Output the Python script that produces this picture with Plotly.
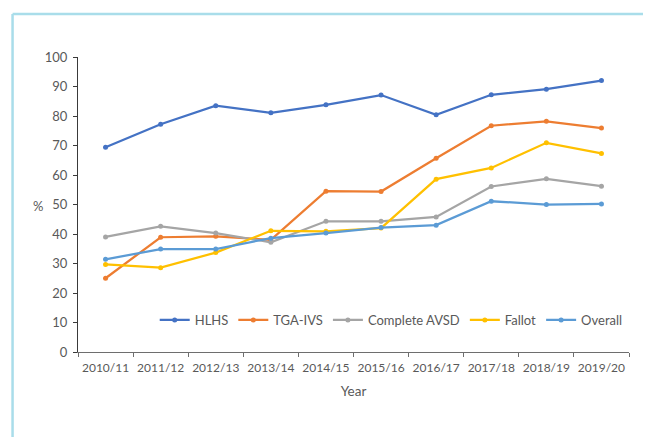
import plotly.graph_objects as go

years = ["2010/11", "2011/12", "2012/13", "2013/14", "2014/15",
         "2015/16", "2016/17", "2017/18", "2018/19", "2019/20"]
hlhs = [69.4, 77.2, 83.5, 81.1, 83.8, 87.1, 80.4, 87.2, 89.1, 92.0]
tga_ivs = [25.0, 38.9, 39.2, 38.0, 54.5, 54.4, 65.7, 76.7, 78.2, 75.9]
avsd = [39.0, 42.6, 40.3, 37.2, 44.3, 44.3, 45.8, 56.1, 58.7, 56.2]
fallot = [29.7, 28.6, 33.7, 41.1, 40.9, 42.0, 58.6, 62.4, 70.9, 67.3]
overall = [31.4, 34.9, 34.9, 38.6, 40.3, 42.2, 43.0, 51.1, 50.0, 50.2]

series = [
    ("HLHS", hlhs, "#4472C4"),
    ("TGA-IVS", tga_ivs, "#ED7D31"),
    ("Complete AVSD", avsd, "#A5A5A5"),
    ("Fallot", fallot, "#FFC000"),
    ("Overall", overall, "#5B9BD5"),
]

# page body has an 8px default margin; lay the figure out in window pixels
OFF = 8
WW, WH = 651, 437
W, H = WW - OFF, WH - OFF
L, T = 77.5 - OFF, 57 - OFF
R, B = WW - 629, WH - 352
pw = W - L - R
ph = H - T - B

fig = go.Figure()
for name, vals, col in series:
    fig.add_trace(go.Scatter(
        x=years, y=vals, name=name, mode="lines+markers",
        line=dict(color=col, width=2.25),
        marker=dict(color=col, size=5, symbol="circle"),
    ))

txt = "#595959"
font = "Lato, 'Open Sans', sans-serif"

def px_x(p):
    return (p - OFF - L) / pw

def px_y(p):
    return (H - B - (p - OFF)) / ph

fig.update_layout(
    width=W, height=H,
    margin=dict(l=L, r=R, t=T, b=B, autoexpand=False),
    paper_bgcolor="white", plot_bgcolor="white",
    font=dict(family=font, size=13, color=txt),
    showlegend=True,
    legend=dict(orientation="h", x=px_x(391), xanchor="center", y=px_y(320), yanchor="middle",
                font=dict(size=13, color=txt), bgcolor="rgba(0,0,0,0)",
                itemwidth=30, tracegroupgap=0),
    xaxis=dict(
        type="category", range=[-0.5, 9.5], automargin=False, tickangle=0,
        showline=True, linecolor="#6e6e6e", linewidth=1,
        ticks="outside", tickson="boundaries", ticklen=4, tickcolor="#6e6e6e",
        showgrid=False, zeroline=False,
        tickfont=dict(size=12, color=txt),
        ticklabelstandoff=5,
        title=dict(text="Year", font=dict(size=13.5, color=txt), standoff=12),
    ),
    yaxis=dict(
        range=[0, 100], dtick=10, automargin=False,
        showline=True, linecolor="#3a3a3a", linewidth=1,
        ticks="outside", ticklen=4, tickcolor="#3a3a3a",
        showgrid=False, zeroline=False,
        tickfont=dict(size=13, color=txt),
        ticklabelstandoff=3,
    ),
    annotations=[dict(
        text="%", xref="paper", yref="paper", x=px_x(37), y=px_y(206),
        showarrow=False, font=dict(size=13, color=txt),
        xanchor="center", yanchor="middle",
    )],
    shapes=[
        dict(type="line", xref="paper", yref="paper",
             x0=px_x(12), x1=px_x(WW + 5), y0=px_y(14), y1=px_y(14),
             line=dict(color="#A9DDEA", width=2.5)),
        dict(type="line", xref="paper", yref="paper",
             x0=px_x(12), x1=px_x(12), y0=px_y(14), y1=px_y(WH + 5),
             line=dict(color="#A9DDEA", width=2.5)),
    ],
)

fig.write_html("out.html")
